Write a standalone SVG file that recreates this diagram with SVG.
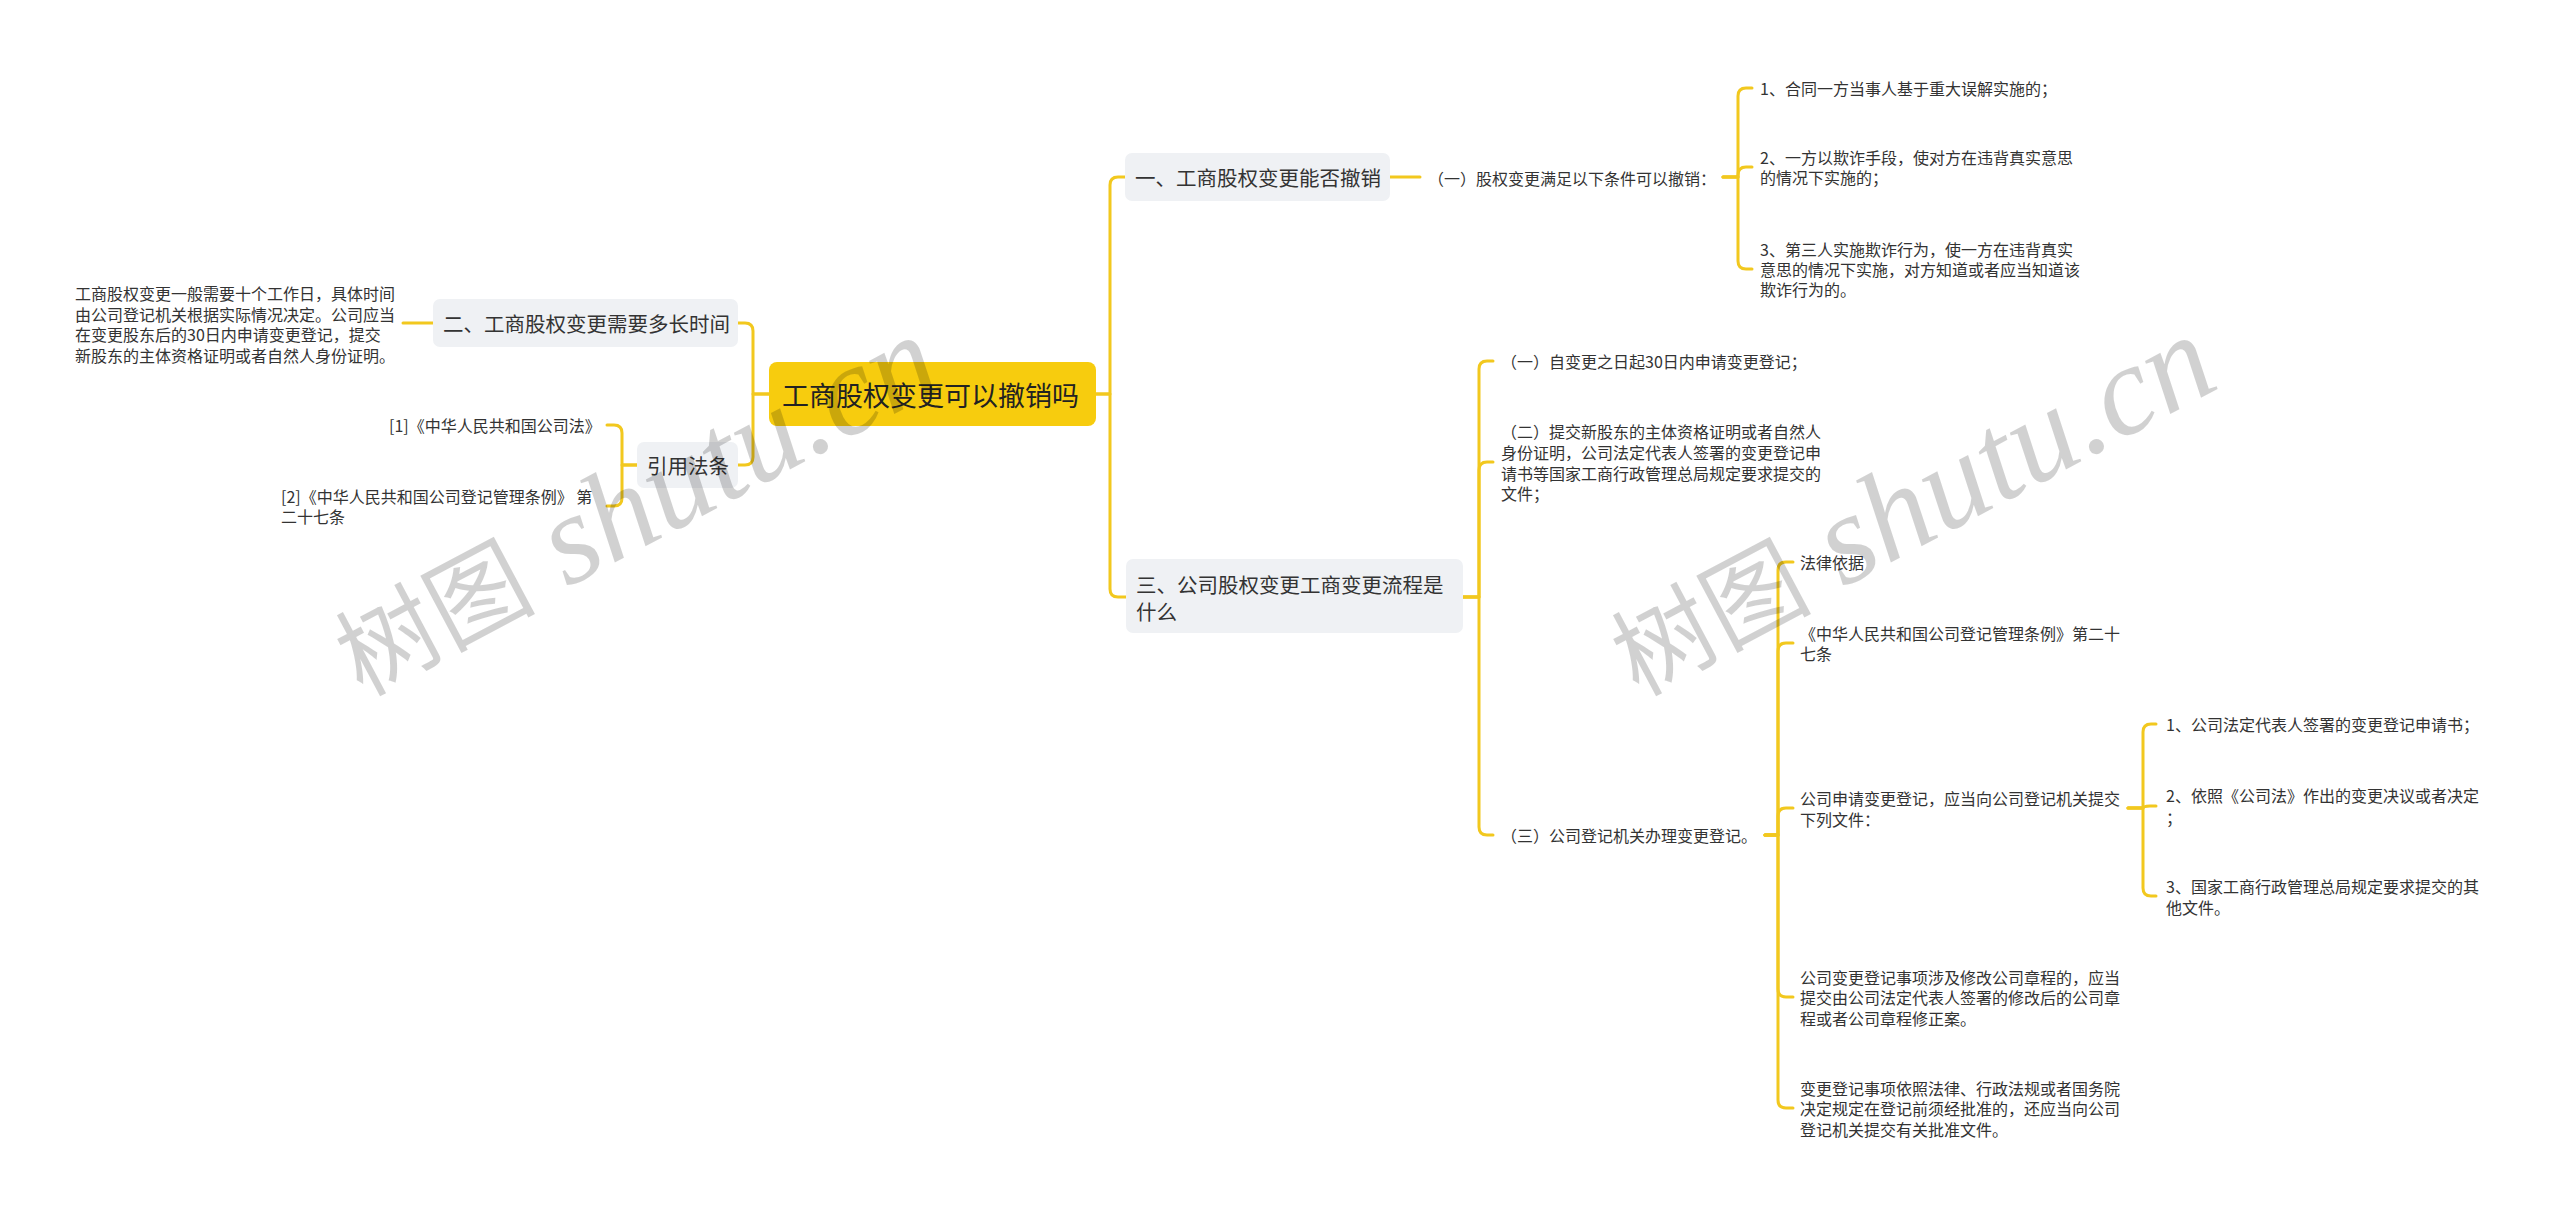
<svg xmlns="http://www.w3.org/2000/svg" width="2560" height="1214" viewBox="0 0 2560 1214">
<style>
text{font-family:"Noto Sans CJK SC","Noto Sans",sans-serif;fill:#333;dominant-baseline:central}
.s{font-size:16px}
.m{font-size:20.5px}
.c{font-size:27px;fill:#222}
.box{fill:#eff1f4}
.cbox{fill:#f7cc0e}
.ln{fill:none;stroke:#f2c81e;stroke-width:3;stroke-linecap:round;stroke-linejoin:round}
text.wm{font-size:100px;fill:#000;fill-opacity:0.18;dominant-baseline:auto}
tspan.lat{font-family:"Liberation Serif","DejaVu Serif",serif;font-style:italic;font-size:128px}
</style>
<rect width="2560" height="1214" fill="#fff"/>
<g id="connectors">
<path class="ln" d="M769 394H753V331Q753 323 745 323H738"/>
<path class="ln" d="M769 394H753V457Q753 465 745 465H738"/>
<path class="ln" d="M433 323H403"/>
<path class="ln" d="M637 465H622V433Q622 425 614 425H607"/>
<path class="ln" d="M637 465H622V498Q622 506 614 506H607"/>
<path class="ln" d="M1096 394H1110V185Q1110 177 1118 177H1125"/>
<path class="ln" d="M1096 394H1110V589Q1110 597 1118 597H1126"/>
<path class="ln" d="M1390 177H1420"/>
<path class="ln" d="M1723 177H1738V96Q1738 88 1746 88H1752"/>
<path class="ln" d="M1723 177H1738V175Q1738 167 1746 167H1752"/>
<path class="ln" d="M1723 177H1738V261Q1738 269 1746 269H1752"/>
<path class="ln" d="M1463 597H1479V369Q1479 361 1487 361H1493"/>
<path class="ln" d="M1463 597H1479V470Q1479 462 1487 462H1493"/>
<path class="ln" d="M1463 597H1479V827Q1479 835 1487 835H1493"/>
<path class="ln" d="M1765 835H1778V570Q1778 562 1786 562H1793"/>
<path class="ln" d="M1765 835H1778V651Q1778 643 1786 643H1793"/>
<path class="ln" d="M1765 835H1778V816Q1778 808 1786 808H1793"/>
<path class="ln" d="M1765 835H1778V989Q1778 997 1786 997H1793"/>
<path class="ln" d="M1765 835H1778V1100Q1778 1108 1786 1108H1793"/>
<path class="ln" d="M2128 808H2143V732Q2143 724 2151 724H2156"/>
<path class="ln" d="M2128 808H2143Q2143 806 2150 806H2156"/>
<path class="ln" d="M2128 808H2143V888Q2143 896 2151 896H2156"/>
</g>
<g id="root">
<rect class="cbox" x="769" y="362" width="327" height="64" rx="8"/>
<text class="c" x="782" y="394">工商股权变更可以撤销吗</text>
</g>
<g id="n2">
<rect class="box" x="433" y="299" width="305" height="48" rx="7"/>
<text class="m" x="443" y="323">二、工商股权变更需要多长时间</text>
</g>
<g id="n2-1">
<text class="s" x="75" y="293">工商股权变更一般需要十个工作日，具体时间</text>
<text class="s" x="75" y="314">由公司登记机关根据实际情况决定。公司应当</text>
<text class="s" x="75" y="334">在变更股东后的30日内申请变更登记，提交</text>
<text class="s" x="75" y="355">新股东的主体资格证明或者自然人身份证明。</text>
</g>
<g id="ref">
<rect class="box" x="637" y="442" width="101" height="46" rx="7"/>
<text class="m" x="647" y="465">引用法条</text>
</g>
<g id="ref-1">
<text class="s" x="389" y="425">[1]《中华人民共和国公司法》</text>
</g>
<g id="ref-2">
<text class="s" x="281" y="496">[2]《中华人民共和国公司登记管理条例》 第</text>
<text class="s" x="281" y="516">二十七条</text>
</g>
<g id="n1">
<rect class="box" x="1125" y="153" width="265" height="48" rx="7"/>
<text class="m" x="1135" y="177">一、工商股权变更能否撤销</text>
</g>
<g id="n1-1">
<text class="s" x="1428" y="178">（一）股权变更满足以下条件可以撤销：</text>
</g>
<g id="n1-1-1">
<text class="s" x="1760" y="88">1、合同一方当事人基于重大误解实施的；</text>
</g>
<g id="n1-1-2">
<text class="s" x="1760" y="157">2、一方以欺诈手段，使对方在违背真实意思</text>
<text class="s" x="1760" y="177">的情况下实施的；</text>
</g>
<g id="n1-1-3">
<text class="s" x="1760" y="249">3、第三人实施欺诈行为，使一方在违背真实</text>
<text class="s" x="1760" y="269">意思的情况下实施，对方知道或者应当知道该</text>
<text class="s" x="1760" y="289">欺诈行为的。</text>
</g>
<g id="n3">
<rect class="box" x="1126" y="559" width="337" height="74" rx="7"/>
<text class="m" x="1136" y="584">三、公司股权变更工商变更流程是</text>
<text class="m" x="1136" y="611">什么</text>
</g>
<g id="n3-1">
<text class="s" x="1501" y="361">（一）自变更之日起30日内申请变更登记；</text>
</g>
<g id="n3-2">
<text class="s" x="1501" y="431">（二）提交新股东的主体资格证明或者自然人</text>
<text class="s" x="1501" y="452">身份证明，公司法定代表人签署的变更登记申</text>
<text class="s" x="1501" y="473">请书等国家工商行政管理总局规定要求提交的</text>
<text class="s" x="1501" y="493">文件；</text>
</g>
<g id="n3-3">
<text class="s" x="1501" y="835">（三）公司登记机关办理变更登记。</text>
</g>
<g id="n3-3-1">
<text class="s" x="1800" y="562">法律依据</text>
</g>
<g id="n3-3-2">
<text class="s" x="1800" y="633">《中华人民共和国公司登记管理条例》第二十</text>
<text class="s" x="1800" y="653">七条</text>
</g>
<g id="n3-3-3">
<text class="s" x="1800" y="798">公司申请变更登记，应当向公司登记机关提交</text>
<text class="s" x="1800" y="819">下列文件：</text>
</g>
<g id="n3-3-3-1">
<text class="s" x="2166" y="724">1、公司法定代表人签署的变更登记申请书；</text>
</g>
<g id="n3-3-3-2">
<text class="s" x="2166" y="795">2、依照《公司法》作出的变更决议或者决定</text>
<text class="s" x="2166" y="817">；</text>
</g>
<g id="n3-3-3-3">
<text class="s" x="2166" y="886">3、国家工商行政管理总局规定要求提交的其</text>
<text class="s" x="2166" y="907">他文件。</text>
</g>
<g id="n3-3-4">
<text class="s" x="1800" y="977">公司变更登记事项涉及修改公司章程的，应当</text>
<text class="s" x="1800" y="997">提交由公司法定代表人签署的修改后的公司章</text>
<text class="s" x="1800" y="1018">程或者公司章程修正案。</text>
</g>
<g id="n3-3-5">
<text class="s" x="1800" y="1088">变更登记事项依照法律、行政法规或者国务院</text>
<text class="s" x="1800" y="1108">决定规定在登记前须经批准的，还应当向公司</text>
<text class="s" x="1800" y="1129">登记机关提交有关批准文件。</text>
</g>
<g id="watermarks">
<text class="wm" transform="translate(362 697) rotate(-28)">树图<tspan class="lat"> shutu.cn</tspan></text>
<text class="wm" transform="translate(1638 697) rotate(-28)">树图<tspan class="lat"> shutu.cn</tspan></text>
</g>
</svg>
